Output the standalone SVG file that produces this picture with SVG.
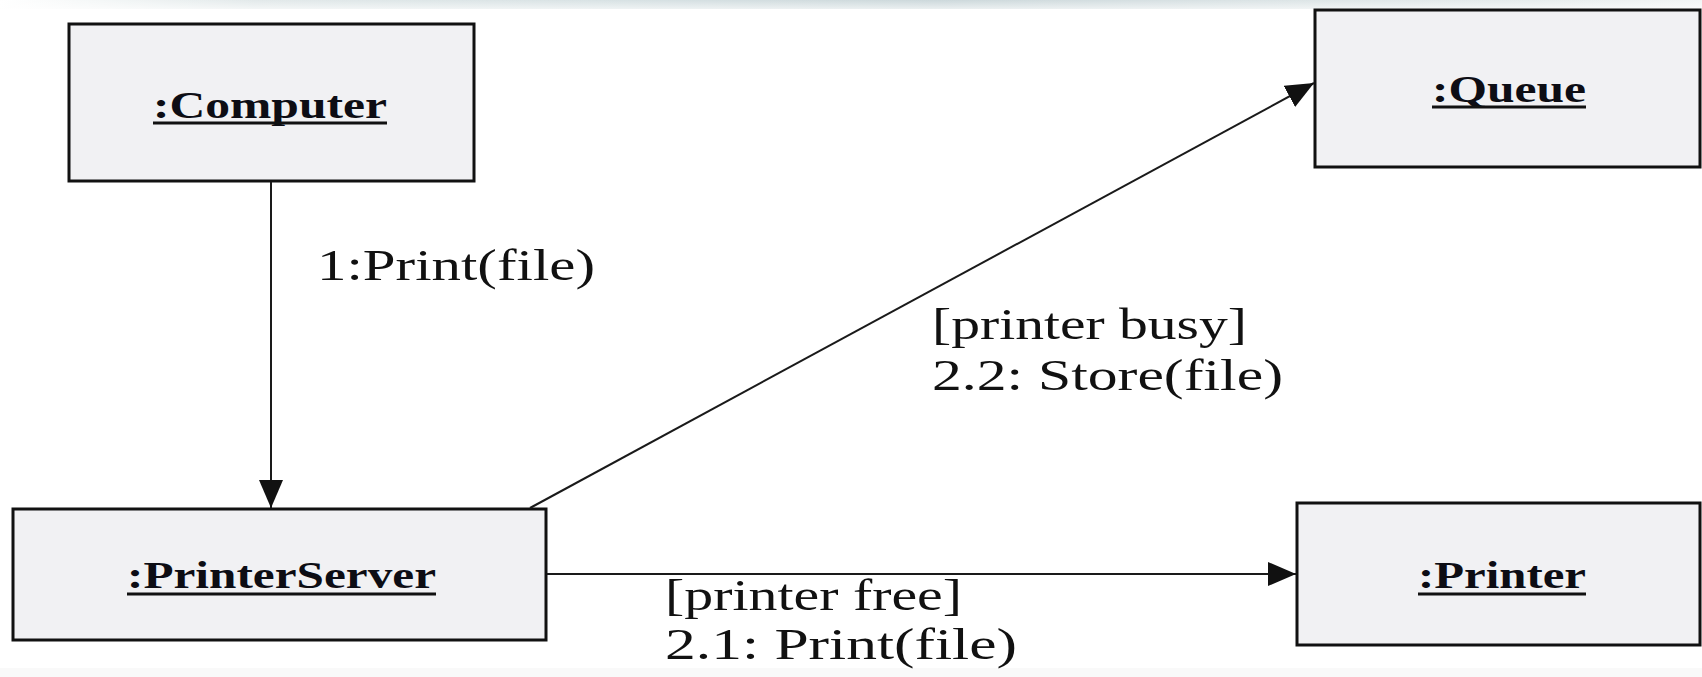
<svg xmlns="http://www.w3.org/2000/svg" width="1702" height="677" viewBox="0 0 1702 677">
  <defs>
    <linearGradient id="topBand" x1="0" y1="0" x2="1" y2="0">
      <stop offset="0" stop-color="#ffffff"/>
      <stop offset="0.06" stop-color="#f4f7f7"/>
      <stop offset="0.15" stop-color="#e2e9ea"/>
      <stop offset="0.35" stop-color="#d8e2e4"/>
      <stop offset="0.55" stop-color="#ccd8db"/>
      <stop offset="0.72" stop-color="#d9e2e4"/>
      <stop offset="0.9" stop-color="#e6ecec"/>
      <stop offset="1" stop-color="#f2f5f5"/>
    </linearGradient>
    <linearGradient id="bandFade" x1="0" y1="0" x2="0" y2="1">
      <stop offset="0" stop-color="#ffffff" stop-opacity="0"/>
      <stop offset="1" stop-color="#ffffff" stop-opacity="0.6"/>
    </linearGradient>
    <marker id="arrow" markerUnits="userSpaceOnUse" markerWidth="30" markerHeight="26"
            refX="28" refY="12" orient="auto" viewBox="0 0 30 26">
      <path d="M0,0 L28,12 L0,24 Z" fill="#111"/>
    </marker>
    <style>
      .box { fill: #f1f1f3; stroke: #111; stroke-width: 3; }
      .name { font-family: "Liberation Serif", "Times New Roman", serif; font-weight: bold; font-size: 37px; fill: #0d0d14; }
      .uline { stroke: #111; stroke-width: 3; }
      .msg { font-family: "Liberation Serif", "Times New Roman", serif; font-size: 44px; fill: #111; }
      .link { stroke: #1a1a1a; stroke-width: 2; fill: none; }
    </style>
  </defs>

  <!-- page -->
  <rect x="0" y="0" width="1702" height="677" fill="#ffffff"/>
  <rect x="0" y="0" width="1702" height="9" fill="url(#topBand)"/>
  <rect x="0" y="0" width="1702" height="9" fill="url(#bandFade)"/>
  <rect x="0" y="668" width="1702" height="9" fill="#f9f9f9"/>

  <!-- objects -->
  <g id="computer">
    <rect class="box" x="69" y="24" width="405" height="157"/>
    <text class="name" x="153" y="118" textLength="234" lengthAdjust="spacingAndGlyphs">:Computer</text>
    <line class="uline" x1="153" y1="123" x2="387" y2="123"/>
  </g>

  <g id="queue">
    <rect class="box" x="1315" y="10" width="385" height="157"/>
    <text class="name" x="1432" y="102" textLength="154" lengthAdjust="spacingAndGlyphs">:Queue</text>
    <line class="uline" x1="1432" y1="107" x2="1586" y2="107"/>
  </g>

  <g id="printerServer">
    <rect class="box" x="13" y="509" width="533" height="131"/>
    <text class="name" x="127" y="588" textLength="309" lengthAdjust="spacingAndGlyphs">:PrinterServer</text>
    <line class="uline" x1="127" y1="594" x2="436" y2="594"/>
  </g>

  <g id="printer">
    <rect class="box" x="1297" y="503" width="403" height="142"/>
    <text class="name" x="1418" y="588" textLength="168" lengthAdjust="spacingAndGlyphs">:Printer</text>
    <line class="uline" x1="1418" y1="594" x2="1586" y2="594"/>
  </g>

  <!-- messages -->
  <g id="connectors">
    <line class="link" x1="271" y1="182" x2="271" y2="508" marker-end="url(#arrow)"/>
    <line class="link" x1="530" y1="508" x2="1314" y2="83" marker-end="url(#arrow)"/>
    <line class="link" x1="547" y1="574" x2="1296" y2="574" marker-end="url(#arrow)"/>

    <text class="msg" x="317" y="280" textLength="278" lengthAdjust="spacingAndGlyphs">1:Print(file)</text>
    <text class="msg" x="932" y="339" textLength="315" lengthAdjust="spacingAndGlyphs">[printer busy]</text>
    <text class="msg" x="932" y="390" textLength="351" lengthAdjust="spacingAndGlyphs">2.2: Store(file)</text>
    <text class="msg" x="665" y="610" textLength="297" lengthAdjust="spacingAndGlyphs">[printer free]</text>
    <text class="msg" x="665" y="659" textLength="352" lengthAdjust="spacingAndGlyphs">2.1: Print(file)</text>
  </g>
</svg>
